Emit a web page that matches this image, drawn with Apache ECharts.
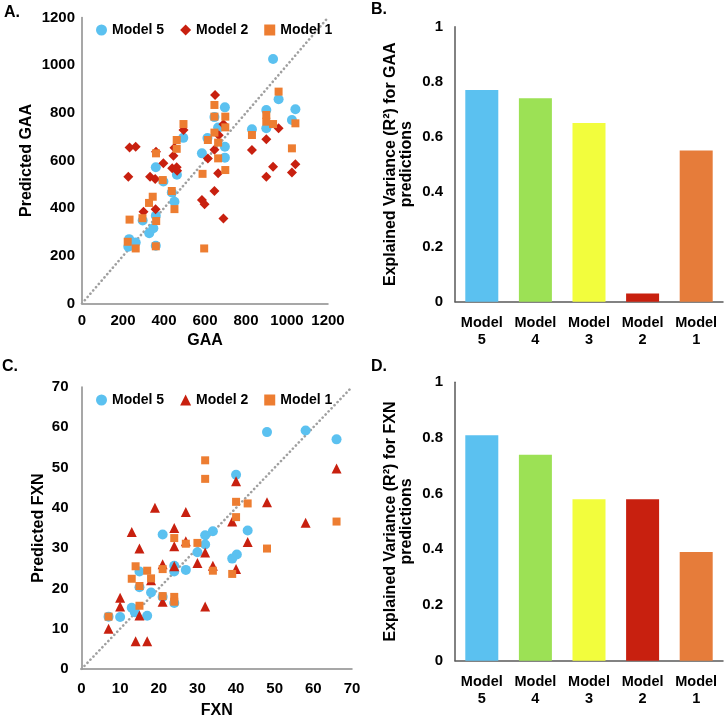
<!DOCTYPE html>
<html><head><meta charset="utf-8">
<script src="https://cdn.jsdelivr.net/npm/echarts@6/dist/echarts.min.js"></script>
<style>html,body{margin:0;padding:0;background:#fff}#c{width:725px;height:720px}</style>
</head><body><div id="c"></div>
<script>
// ---- Data ----
const gaaModel5 = [[932,1026],[959,857],[1041,815],[1024,770],[899,812],[899,735],[829,731],[697,823],[697,658],[697,612],[664,738],[646,782],[612,694],[585,630],[494,695],[463,540],[451,427],[438,466],[397,512],[360,572],[360,368],[348,316],[328,295],[296,348],[360,242],[230,270],[262,256],[226,238]];
const gaaModel2 = [[649,875],[226,532],[232,655],[262,658],[361,637],[332,532],[357,522],[397,588],[300,385],[359,395],[451,653],[446,620],[440,567],[462,572],[464,557],[495,728],[585,434],[598,416],[614,608],[646,645],[646,472],[664,546],[667,706],[690,752],[690,357],[829,644],[899,689],[899,532],[932,574],[959,735],[1024,550],[1041,584]];
const gaaModel1 = [[959,889],[899,791],[899,763],[932,753],[1041,756],[829,707],[1024,651],[699,784],[699,739],[699,560],[646,833],[646,784],[646,717],[664,675],[664,609],[614,686],[588,544],[596,231],[495,753],[462,686],[462,649],[451,396],[438,472],[394,518],[361,630],[362,346],[360,240],[345,448],[327,422],[295,358],[232,352],[223,259],[262,231]];
const fxnModel5 = [[48,58.8],[58,59.2],[66,57],[40,48.2],[43,34.4],[34,34.2],[32,33.2],[32,30.9],[30,29],[21,33.4],[40.2,28.4],[39,27.4],[27,24.6],[24,25.6],[24,24.2],[15,24.2],[15,20.3],[18,19],[21,17.9],[24,16.4],[13,15.2],[13.8,14.1],[17,13.2],[10,12.9],[7,13]];
const fxnModel2 = [[66,49.8],[40,46.6],[48,41.4],[58,36.3],[39,36.6],[19,40],[27,39],[24,35],[13,34],[24,30.5],[15,29.9],[43,31.5],[32,28.9],[27,31.7],[30,26.3],[34,25.6],[24,25.5],[21,26],[40,24.8],[18,22],[21,16.7],[32,15.5],[10,17.7],[10,15.5],[15,13.3],[7,10],[14,6.9],[17,6.9]];
const fxnModel1 = [[32,51.8],[32,47.2],[40,41.5],[43,41.1],[40,37.7],[66,36.6],[48,29.9],[24,32.5],[27,31.1],[30,31.3],[21,24.8],[34,24.4],[39,23.6],[14,25.5],[13,22.4],[17,24.4],[18,22.5],[15,20.6],[21,18.1],[24,17.9],[24,16.7],[15,15.7],[7,13]];
const gaaDiagonal = [[0,0],[1200,1200]];
const fxnDiagonal = [[0,0],[70,70]];
const barCategories = ['Model\n5','Model\n4','Model\n3','Model\n2','Model\n1'];
const gaaR2 = [0.77, 0.74, 0.65, 0.03, 0.55];
const fxnR2 = [0.81, 0.74, 0.58, 0.58, 0.39];
const barColors = ['#5BC1F0','#9CE155','#F2FD3D','#C8200F','#E67C3A'];
const C5 = '#5BC1F0', C2 = '#C8200F', C1 = '#ED7D31';

const FONT = 'Liberation Sans, Arial, sans-serif';
const tickLbl = {fontFamily: FONT, fontWeight: 'bold', fontSize: 15, color: '#000'};
const nameLbl = {fontFamily: FONT, fontWeight: 'bold', fontSize: 16, color: '#000'};
const scatterAxisLine = {show: true, lineStyle: {color: '#8a8a8a', width: 1.5}};
const barAxisLine = {show: true, lineStyle: {color: '#595959', width: 1.5}};
const plain = v => String(v);
const diagStyle = {color: '#a0a0a0', width: 2.6, type: [0.1, 4.2], cap: 'round'};

const chart = echarts.init(document.getElementById('c'), null, {renderer: 'canvas'});
chart.setOption({
  animation: false,
  backgroundColor: '#fff',
  textStyle: {fontFamily: FONT},
  grid: [
    {left: 82, top: 17.5, width: 246, height: 286},
    {left: 455, top: 26.7, width: 268, height: 275},
    {left: 81.5, top: 387, width: 270.5, height: 286},
    {left: 455, top: 382.3, width: 268, height: 278.4}
  ],
  xAxis: [
    {gridIndex: 0, type: 'value', min: 0, max: 1200, interval: 200, splitLine: {show: false}, axisTick: {show: false},
     axisLine: scatterAxisLine, axisLabel: Object.assign({margin: 10, formatter: plain}, tickLbl),
     name: 'GAA', nameLocation: 'middle', nameGap: 29, nameTextStyle: nameLbl},
    {gridIndex: 1, type: 'category', data: barCategories, axisTick: {show: false}, axisLine: barAxisLine,
     axisLabel: Object.assign({margin: 13, lineHeight: 17, interval: 0}, tickLbl, {fontSize: 14.5})},
    {gridIndex: 2, type: 'value', min: 0, max: 70, interval: 10, splitLine: {show: false}, axisTick: {show: false},
     axisLine: scatterAxisLine, axisLabel: Object.assign({margin: 12, formatter: plain}, tickLbl),
     name: 'FXN', nameLocation: 'middle', nameGap: 34, nameTextStyle: nameLbl},
    {gridIndex: 3, type: 'category', data: barCategories, axisTick: {show: false}, axisLine: barAxisLine,
     axisLabel: Object.assign({margin: 13, lineHeight: 17, interval: 0}, tickLbl, {fontSize: 14.5})}
  ],
  yAxis: [
    {gridIndex: 0, type: 'value', min: 0, max: 1200, interval: 200, splitLine: {show: false}, axisTick: {show: false},
     axisLine: scatterAxisLine, axisLabel: Object.assign({margin: 7, formatter: plain}, tickLbl),
     name: 'Predicted GAA', nameLocation: 'middle', nameGap: 47, nameTextStyle: nameLbl},
    {gridIndex: 1, type: 'value', min: 0, max: 1, interval: 0.2, splitLine: {show: false}, axisTick: {show: false},
     axisLine: barAxisLine, axisLabel: Object.assign({margin: 12}, tickLbl),
     name: 'Explained Variance (R²) for GAA\npredictions', nameLocation: 'middle', nameGap: 40,
     nameTextStyle: Object.assign({lineHeight: 16, align: 'center'}, nameLbl)},
    {gridIndex: 2, type: 'value', min: 0, max: 70, interval: 10, splitLine: {show: false}, axisTick: {show: false},
     axisLine: scatterAxisLine, axisLabel: Object.assign({margin: 13, formatter: plain}, tickLbl),
     name: 'Predicted FXN', nameLocation: 'middle', nameGap: 35, nameTextStyle: nameLbl},
    {gridIndex: 3, type: 'value', min: 0, max: 1, interval: 0.2, splitLine: {show: false}, axisTick: {show: false},
     axisLine: barAxisLine, axisLabel: Object.assign({margin: 12}, tickLbl),
     name: 'Explained Variance (R²) for FXN\npredictions', nameLocation: 'middle', nameGap: 40,
     nameTextStyle: Object.assign({lineHeight: 16, align: 'center'}, nameLbl)}
  ],
  legend: [
    {left: 91, top: 18, itemWidth: 11, itemHeight: 11, itemGap: 16, selectedMode: false,
     textStyle: {fontFamily: FONT, fontWeight: 'bold', fontSize: 14, color: '#000'},
     data: [{name: 'Model 5', icon: 'circle'}, {name: 'Model 2', icon: 'diamond'}, {name: 'Model 1', icon: 'rect'}]},
    {left: 91, top: 388, itemWidth: 11, itemHeight: 11, itemGap: 16, selectedMode: false,
     textStyle: {fontFamily: FONT, fontWeight: 'bold', fontSize: 14, color: '#000'},
     data: [{name: 'Model 5', icon: 'circle'}, {name: 'Model 2', icon: 'triangle'}, {name: 'Model 1', icon: 'rect'}]}
  ],
  graphic: [
    {type: 'text', left: 4, top: 5, style: {text: 'A.', font: 'bold 16px ' + FONT, fill: '#000'}},
    {type: 'text', left: 371, top: 2, style: {text: 'B.', font: 'bold 16px ' + FONT, fill: '#000'}},
    {type: 'text', left: 2, top: 359, style: {text: 'C.', font: 'bold 16px ' + FONT, fill: '#000'}},
    {type: 'text', left: 371, top: 359, style: {text: 'D.', font: 'bold 16px ' + FONT, fill: '#000'}}
  ],
  series: [
    {type: 'line', xAxisIndex: 0, yAxisIndex: 0, data: gaaDiagonal, symbol: 'none', silent: true, z: 1, lineStyle: diagStyle},
    {name: 'Model 5', type: 'scatter', xAxisIndex: 0, yAxisIndex: 0, data: gaaModel5, symbol: 'circle', symbolSize: 10, itemStyle: {color: C5, opacity: 1}, z: 2},
    {name: 'Model 2', type: 'scatter', xAxisIndex: 0, yAxisIndex: 0, data: gaaModel2, symbol: 'diamond', symbolSize: 10, itemStyle: {color: C2, opacity: 1}, z: 3},
    {name: 'Model 1', type: 'scatter', xAxisIndex: 0, yAxisIndex: 0, data: gaaModel1, symbol: 'rect', symbolSize: 8, itemStyle: {color: C1, opacity: 1}, z: 4},
    {type: 'bar', xAxisIndex: 1, yAxisIndex: 1, barWidth: 33,
     data: gaaR2.map((v, i) => ({value: v, itemStyle: {color: barColors[i]}}))},
    {type: 'line', xAxisIndex: 2, yAxisIndex: 2, data: fxnDiagonal, symbol: 'none', silent: true, z: 1, lineStyle: diagStyle},
    {name: 'Model 5', type: 'scatter', xAxisIndex: 2, yAxisIndex: 2, data: fxnModel5, symbol: 'circle', symbolSize: 10, itemStyle: {color: C5, opacity: 1}, z: 2},
    {name: 'Model 2', type: 'scatter', xAxisIndex: 2, yAxisIndex: 2, data: fxnModel2, symbol: 'triangle', symbolSize: 10, itemStyle: {color: C2, opacity: 1}, z: 3},
    {name: 'Model 1', type: 'scatter', xAxisIndex: 2, yAxisIndex: 2, data: fxnModel1, symbol: 'rect', symbolSize: 8, itemStyle: {color: C1, opacity: 1}, z: 4},
    {type: 'bar', xAxisIndex: 3, yAxisIndex: 3, barWidth: 33,
     data: fxnR2.map((v, i) => ({value: v, itemStyle: {color: barColors[i]}}))}
  ]
});
</script>
</body></html>
